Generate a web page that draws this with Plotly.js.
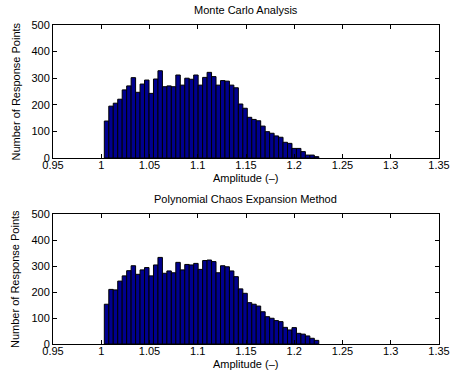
<!DOCTYPE html>
<html>
<head>
<meta charset="utf-8">
<script src="https://cdn.plot.ly/plotly-3.0.1.min.js"></script>
<style>html,body{margin:0;padding:0;background:#fff;}#chart{width:472px;height:381px;}</style>
</head>
<body>
<div id="chart"></div>
<script>
// Histogram bins: first bin centre and bin width (amplitude units)
const binStart = 1.0055;
const binWidth = 0.00463;

const monteCarloCounts = [139,195,206,221,256,271,302,247,278,293,243,297,328,268,271,268,
  312,274,300,296,312,274,303,322,306,274,291,289,274,264,203,187,
  153,145,140,120,99,93,83,78,59,55,36,36,24,11,11,5];

const pceCounts = [153,210,208,242,262,282,301,268,285,294,262,304,333,272,281,274,
  314,285,306,304,310,287,321,323,317,274,301,297,281,259,212,195,
  159,153,146,124,105,99,90,86,64,54,63,41,38,31,22,14];

const xTickVals = [0.95,1.0,1.05,1.1,1.15,1.2,1.25,1.3,1.35];
const xTickText = ['0.95','1','1.05','1.1','1.15','1.2','1.25','1.3','1.35'];
const yTickVals = [0,100,200,300,400,500];
const yTickText = ['0','100','200','300','400','500'];

const titles = ['Monte Carlo Analysis','Polynomial Chaos Expansion Method'];
const xTitle = 'Amplitude (\u2013)';
const yTitle = 'Number of Response Points';

function centres(n){ const c=[]; for(let i=0;i<n;i++) c.push(binStart+i*binWidth); return c; }

const barStyle = {color:'#00008F', line:{color:'#000000', width:1}};
const traces = [
  {type:'bar', x:centres(monteCarloCounts.length), y:monteCarloCounts, width:binWidth, marker:barStyle, xaxis:'x', yaxis:'y', hoverinfo:'x+y'},
  {type:'bar', x:centres(pceCounts.length), y:pceCounts, width:binWidth, marker:barStyle, xaxis:'x2', yaxis:'y2', hoverinfo:'x+y'}
];

const font = {family:'"Liberation Sans", Arial, sans-serif', size:11, color:'#000'};
function xax(dom){ return {domain:dom, range:[0.95,1.35], tickvals:xTickVals, ticktext:xTickText, ticks:'inside', ticklen:4, tickcolor:'#000',
  ticklabelstandoff:-3,
  showline:true, linecolor:'#000', linewidth:1, mirror:'allticks', showgrid:false, zeroline:false, tickfont:font}; }
function yax(dom){ return {domain:dom, range:[0,500], tickvals:yTickVals, ticktext:yTickText, ticks:'inside', ticklen:4, tickcolor:'#000',
  showline:true, linecolor:'#000', linewidth:1, mirror:'allticks', showgrid:false, zeroline:false, tickfont:font}; }

const xd = [53/472, 439/472];
const yd1 = [1-158/381, 1-25/381];
const yd2 = [1-344/381, 1-214/381];
const xc = (xd[0]+xd[1])/2;
function ann(text, x, y, opts){ return Object.assign({text:text, xref:'paper', yref:'paper', x:x, y:y, showarrow:false, font:font, xanchor:'center', yanchor:'middle'}, opts||{}); }

const layout = {
  width:472, height:381, margin:{l:0,r:0,t:0,b:0}, paper_bgcolor:'#fff', plot_bgcolor:'#fff',
  showlegend:false, bargap:0, font:font,
  xaxis:Object.assign(xax(xd), {anchor:'y'}),
  yaxis:Object.assign(yax(yd1), {anchor:'x'}),
  xaxis2:Object.assign(xax(xd), {anchor:'y2'}),
  yaxis2:Object.assign(yax(yd2), {anchor:'x2'}),
  annotations:[
    ann(titles[0], xc, 1-10/381),
    ann(titles[1], xc, 1-199/381),
    ann(xTitle, xc, 1-178/381),
    ann(xTitle, xc, 1-364/381),
    ann(yTitle, 15/472, (yd1[0]+yd1[1])/2, {textangle:-90}),
    ann(yTitle, 15/472, (yd2[0]+yd2[1])/2, {textangle:-90})
  ]
};
Plotly.newPlot('chart', traces, layout, {staticPlot:true, displayModeBar:false});
</script>
</body>
</html>
